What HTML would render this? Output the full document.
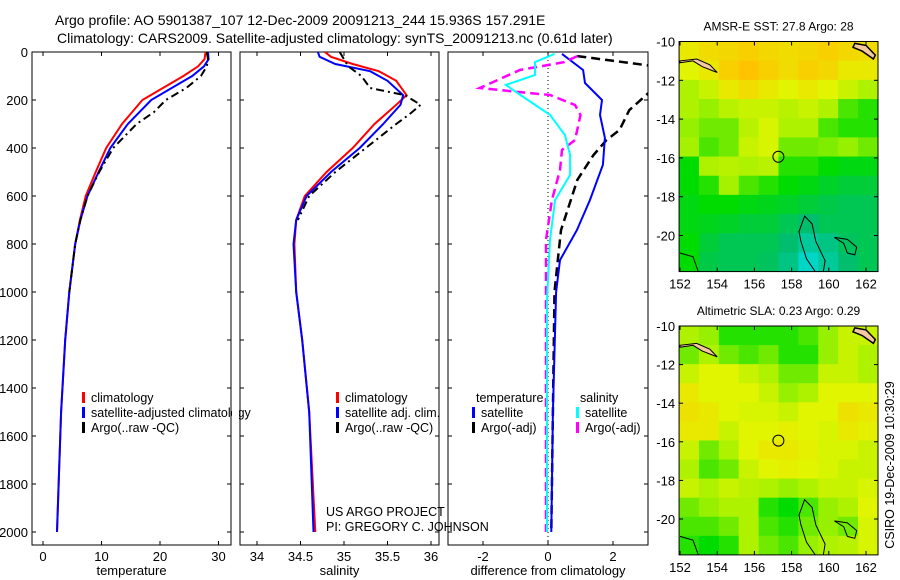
<!DOCTYPE html>
<html><head><meta charset="utf-8"><style>
body{margin:0;background:#fff;}
svg{display:block;font-family:"Liberation Sans",sans-serif;}
</style></head><body>
<svg id="fig" width="900" height="580" viewBox="0 0 900 580">
<text x="55" y="25" font-size="14">Argo profile: AO 5901387_107 12-Dec-2009 20091213_244 15.936S 157.291E</text>
<text x="57" y="43" font-size="14">Climatology: CARS2009. Satellite-adjusted climatology: synTS_20091213.nc (0.61d later)</text>
<text transform="translate(894,465) rotate(-90)" font-size="12.5" text-anchor="middle">CSIRO 19-Dec-2009 10:30:29</text>
</svg>
<script>
// ---- data ----
const depthTicks=[0,200,400,600,800,1000,1200,1400,1600,1800,2000];
const tempTicks=[0,10,20,30];
const salTicks=[34,34.5,35,35.5,36];
const salTickLabels=["34","34.5","35","35.5","36"];
const diffTicks=[-2,0,2];
const tClimDepth=[0,30,60,100,150,200,300,400,500,600,700,800,1000,1200,1500,2000];
const tClim=[27.8,27.6,26.5,24,20.5,17,13.5,10.8,9,7.3,6.3,5.5,4.5,3.8,3.1,2.4];
const tSat=[28.2,28.3,27.5,25.5,22,18.5,14.5,11.5,9.5,7.6,6.4,5.5,4.5,3.8,3.1,2.4];
const tArgoDepth=[0,30,60,100,150,200,250,300,400,500,600,700,800,1000];
const tArgo=[28,28.2,28,27,24.5,21,19,16,12,9.6,7.6,6.4,5.5,4.5];
const sClimDepth=[0,20,50,80,120,180,220,300,400,500,600,700,800,1000,1200,1500,2000];
const sClim=[34.78,34.85,35.1,35.4,35.6,35.72,35.6,35.35,35.1,34.8,34.55,34.45,34.43,34.45,34.52,34.6,34.67];
const sSat=[34.7,34.72,34.9,35.3,35.5,35.68,35.65,35.45,35.18,34.85,34.57,34.45,34.42,34.45,34.52,34.6,34.65];
const sArgoDepth=[0,30,60,100,150,180,220,260,300,400,500,600,700];
const sArgo=[34.95,35.0,35.05,35.2,35.3,35.7,35.88,35.75,35.6,35.25,34.9,34.6,34.47];
const dTSatDepth=[8,75,129,200,262,358,470,617,742,867,1000,1500,2000];
const dTSat=[0.43,1.08,1.14,1.66,1.6,1.75,1.69,1.29,0.89,0.37,0.25,0.15,0.1];
const dTArgoDepth=[17,58,158,242,325,367,429,533,617,742,867,1000,1500,2000];
const dTArgo=[0.9,3.2,3.2,2.5,2.2,1.8,1.4,0.9,0.7,0.4,0.3,0.2,0.15,0.1];
const dSSatDepth=[8,42,96,137,179,262,346,429,512,617,783,1033,2000];
const dSSat=[0.2,-0.4,-0.4,-1.3,-0.85,0.06,0.52,0.68,0.68,0.22,0.06,-0.03,-0.03];
const dSArgoDepth=[17,42,75,150,167,179,221,262,367,408,492,617,783,2000];
const dSArgo=[0.9,0.5,-0.86,-2.1,-0.86,0.06,0.83,1.0,0.83,0.43,0.37,0.12,-0.06,-0.06];
const lonTicks=[152,154,156,158,160,162];
const latTicks=[-10,-12,-14,-16,-18,-20];
const sstGrid=[
[.85,.9,.92,.95,.92,.9,.92,.95,.92,.9],
[.8,.85,.95,1,.95,.9,.95,.92,.85,.85],
[.7,.75,.85,.9,.85,.8,.85,.8,.75,.7],
[.7,.65,.72,.75,.75,.72,.75,.7,.55,.5],
[.65,.6,.6,.72,.78,.7,.7,.55,.5,.5],
[.68,.55,.6,.75,.78,.6,.6,.62,.65,.6],
[.45,.7,.72,.7,.72,.5,.5,.45,.42,.42],
[.45,.5,.68,.55,.5,.45,.42,.38,.35,.35],
[.42,.45,.45,.42,.4,.38,.35,.32,.3,.3],
[.42,.4,.38,.35,.35,.3,.25,.3,.3,.3],
[.45,.35,.3,.3,.3,.25,.15,.2,.28,.3],
[.45,.32,.3,.3,.28,.2,.05,.15,.25,.3]];
const slaGrid=[
[.7,.65,.5,.5,.5,.5,.55,.65,.75,.75],
[.6,.7,.6,.55,.6,.5,.5,.65,.75,.7],
[.75,.8,.8,.75,.7,.6,.6,.75,.75,.7],
[.85,.8,.8,.8,.75,.65,.7,.8,.8,.8],
[.88,.85,.8,.78,.78,.75,.8,.8,.88,.85],
[.85,.85,.75,.8,.8,.82,.8,.78,.85,.82],
[.75,.6,.7,.8,.85,.85,.82,.78,.78,.75],
[.7,.55,.6,.75,.8,.82,.8,.78,.75,.75],
[.75,.7,.75,.72,.7,.65,.7,.75,.75,.78],
[.6,.65,.7,.7,.5,.45,.55,.65,.7,.8],
[.55,.55,.6,.7,.55,.5,.6,.65,.6,.78],
[.5,.45,.5,.7,.6,.55,.65,.7,.72,.78]];
const argoLon=157.29, argoLat=-15.94;
const coastA=[[152,-11.1],[152.7,-11],[153.2,-11.3],[154,-11.6],[153.6,-11.2],[152.9,-10.9],[152,-11]];
const coastB=[[161.3,-10.3],[161.8,-10.5],[162.4,-10.9],[162.5,-10.7],[162,-10.2],[161.4,-10.1]];
const contC=[[158.4,-19.8],[158.7,-19],[159.1,-19.4],[159.3,-20.3],[159.8,-21.3],[159.7,-21.9],[159.3,-21.9],[158.8,-21.2],[158.5,-20.3]];
const contD=[[160.3,-20.1],[161,-20.2],[161.5,-20.6],[161.4,-21],[161,-20.9],[160.8,-20.4]];
const contE=[[152,-20.9],[152.7,-21.1],[153,-21.9]];
// ---- helpers ----
const svg=document.getElementById('fig');
const NS='http://www.w3.org/2000/svg';
function mk(tag,attrs,parent){const e=document.createElementNS(NS,tag);for(const k in attrs)e.setAttribute(k,attrs[k]);(parent||svg).appendChild(e);return e;}
const PT=52,PB=545,yD=d=>52+d*0.24;
let curClip='';
function line(xs,ds,sx,color,dash,name,w){
  const p=xs.map((v,i)=>sx(v).toFixed(1)+','+yD(ds[i]).toFixed(1)).join(' ');
  const e=mk('polyline',{points:p,fill:'none',stroke:color,'stroke-width':w||2,'stroke-dasharray':dash||'','clip-path':'url(#'+curClip+')'});
  
  
}
function panel(id,x0,x1,sx,ticks,labels,xlabel,ylabels){
  const cp=mk('clipPath',{id:id});mk('rect',{x:x0,y:PT,width:x1-x0,height:PB-PT},cp);curClip=id;
  const f=mk('rect',{x:x0,y:PT,width:x1-x0,height:PB-PT,fill:'none',stroke:'#000','stroke-width':1});
  
  
  ticks.forEach((t,i)=>{const x=sx(t);
    mk('line',{x1:x,x2:x,y1:PB,y2:PB-4,stroke:'#000'});mk('line',{x1:x,x2:x,y1:PT,y2:PT+4,stroke:'#000'});
    const tx=mk('text',{x:x,y:PB+16,'font-size':13,'text-anchor':'middle'});tx.textContent=labels[i];
    
    });
  depthTicks.forEach(d=>{const y=yD(d);
    mk('line',{x1:x0,x2:x0+4,y1:y,y2:y,stroke:'#000'});mk('line',{x1:x1,x2:x1-4,y1:y,y2:y,stroke:'#000'});
    if(ylabels){const tx=mk('text',{x:x0-4,y:y+5,'font-size':13,'text-anchor':'end'});tx.textContent=d;
      
      }});
  const xl=mk('text',{x:(x0+x1)/2,y:575,'font-size':13,'text-anchor':'middle'});xl.textContent=xlabel;
  
  
}
function legend(x,y,items,name){items.forEach((it,i)=>{const yy=y+i*15;
  if(it[0])mk('rect',{x:x,y:yy-10,width:3,height:11,fill:it[0]});
  const t=mk('text',{x:x+(it[0]?9:4),y:yy,'font-size':12.5});t.textContent=it[1];
  
  });}
// panel 1
const sxT=v=>43+v*5.85;
panel('temp-panel',32,231,sxT,tempTicks,tempTicks.map(String),'temperature',true);
line(tClim,tClimDepth,sxT,'#f00','','temp-climatology-line');
line(tSat,tClimDepth,sxT,'#00f','','temp-satellite-line');
line(tArgo,tArgoDepth,sxT,'#000','8,4,2,4','temp-argo-line');
legend(82,402,[['#f00','climatology'],['#00f','satellite-adjusted climatology'],['#000','Argo(..raw -QC)']],'temp-legend');
// panel 2
const sxS=v=>257+(v-34)*87;
mk('rect',{x:232,y:380,width:7,height:60,fill:'#fff'});
panel('sal-panel',240,439,sxS,salTicks,salTickLabels,'salinity',false);
line(sClim,sClimDepth,sxS,'#f00','','sal-climatology-line');
line(sSat,sClimDepth,sxS,'#00f','','sal-satellite-line');
line(sArgo,sArgoDepth,sxS,'#000','8,4,2,4','sal-argo-line');
legend(336,402,[['#f00','climatology'],['#00f','satellite adj. clim.'],['#000','Argo(..raw -QC)']],'sal-legend');
const p1=mk('text',{x:326,y:516,'font-size':12.5});p1.textContent='US ARGO PROJECT';

const p2=mk('text',{x:326,y:531,'font-size':12.5});p2.textContent='PI: GREGORY C. JOHNSON';

// panel 3
const sxD=v=>548+v*32.5;
panel('diff-panel',448,648,sxD,diffTicks,diffTicks.map(String),'difference from climatology',false);
mk('line',{x1:sxD(0),x2:sxD(0),y1:PT,y2:PB,stroke:'#000','stroke-dasharray':'1,3'});
line(dTArgo,dTArgoDepth,sxD,'#000','9,5','dtemp-argo-line',2.5);
line(dTSat,dTSatDepth,sxD,'#00f','','dtemp-satellite-line');
line(dSArgo,dSArgoDepth,sxD,'#f0f','9,5','dsal-argo-line',2.5);
line(dSSat,dSSatDepth,sxD,'#0ff','','dsal-satellite-line');
legend(472,402,[[null,'temperature'],['#00f','satellite'],['#000','Argo(-adj)']],'dtemp-legend');
legend(576,402,[[null,'salinity'],['#0ff','satellite'],['#f0f','Argo(-adj)']],'dsal-legend');
// maps
function cmap(v){const s=[[0,[0,220,220]],[.25,[0,190,110]],[.45,[0,220,0]],[.65,[150,240,0]],[.8,[225,245,0]],[1,[255,195,0]]];
  for(let i=1;i<s.length;i++)if(v<=s[i][0]){const a=s[i-1],b=s[i],t=(v-a[0])/(b[0]-a[0]);
    return 'rgb('+a[1].map((c,j)=>Math.round(c+(b[1][j]-c)*t)).join(',')+')';}return 'rgb(255,195,0)';}
function map(id,top,grid,title){
  const ky=(id==='sst-map')?19.4:19.3;
  const L0=151.95,L1=162.64,B0=-10,B1=-21.86,x0=680-0.05*18.6,x1=878,bot=top+(B0-B1)*ky;
  const sx=l=>680+(l-152)*18.6, sy=la=>top+(-10-la)*ky;
  const cp=mk('clipPath',{id:id+'-clip'});mk('rect',{x:x0,y:top,width:x1-x0,height:bot-top},cp);
  const g=mk('g',{'clip-path':'url(#'+id+'-clip)'});
  const cw=(L1-L0)/10,ch=(B0-B1)/12;
  grid.forEach((row,r)=>row.forEach((v,c)=>{const xa=sx(L0+c*cw),ya=sy(B0-r*ch);
    const e=mk('rect',{x:xa,y:ya,width:sx(L0+(c+1)*cw)-xa+0.5,height:sy(B0-(r+1)*ch)-ya+0.5,fill:cmap(v)},g);
    
    }));
  const pts=a=>a.map(p=>sx(p[0]).toFixed(1)+','+sy(p[1]).toFixed(1)).join(' ');
  mk('polygon',{points:pts(coastA),fill:'#f5c8a0',stroke:'#000','stroke-width':1},g);
  mk('polygon',{points:pts(coastB),fill:'#f5c8a0',stroke:'#000','stroke-width':1.5},g);
  mk('polygon',{points:pts(contC),fill:'none',stroke:'#000','stroke-width':1},g);
  mk('polygon',{points:pts(contD),fill:'none',stroke:'#000','stroke-width':1},g);
  mk('polyline',{points:pts(contE),fill:'none',stroke:'#000','stroke-width':1},g);
  const ci=mk('circle',{cx:sx(argoLon),cy:sy(argoLat),r:5.5,fill:'none',stroke:'#000','stroke-width':1},g);
  
  
  const f=mk('rect',{x:x0,y:top,width:x1-x0,height:bot-top,fill:'none',stroke:'#000','stroke-width':1});
  
  
  lonTicks.forEach(l=>{const x=sx(l);mk('line',{x1:x,x2:x,y1:bot,y2:bot-4,stroke:'#000'});mk('line',{x1:x,x2:x,y1:top,y2:top+4,stroke:'#000'});
    const t=mk('text',{x:x,y:bot+17,'font-size':13,'text-anchor':'middle'});t.textContent=l;
    });
  latTicks.forEach(la=>{const y=sy(la);mk('line',{x1:x0,x2:x0+4,y1:y,y2:y,stroke:'#000'});mk('line',{x1:x1,x2:x1-4,y1:y,y2:y,stroke:'#000'});
    const t=mk('text',{x:x0-4,y:y+5,'font-size':13,'text-anchor':'end'});t.textContent=la;
    });
  const tt=mk('text',{x:(x0+x1)/2,y:top-11,'font-size':12,'text-anchor':'middle'});tt.textContent=title;
  
}
map('sst-map',41.5,sstGrid,'AMSR-E SST: 27.8 Argo: 28');
map('sla-map',326,slaGrid,'Altimetric SLA: 0.23 Argo: 0.29');
</script>
</body></html>
